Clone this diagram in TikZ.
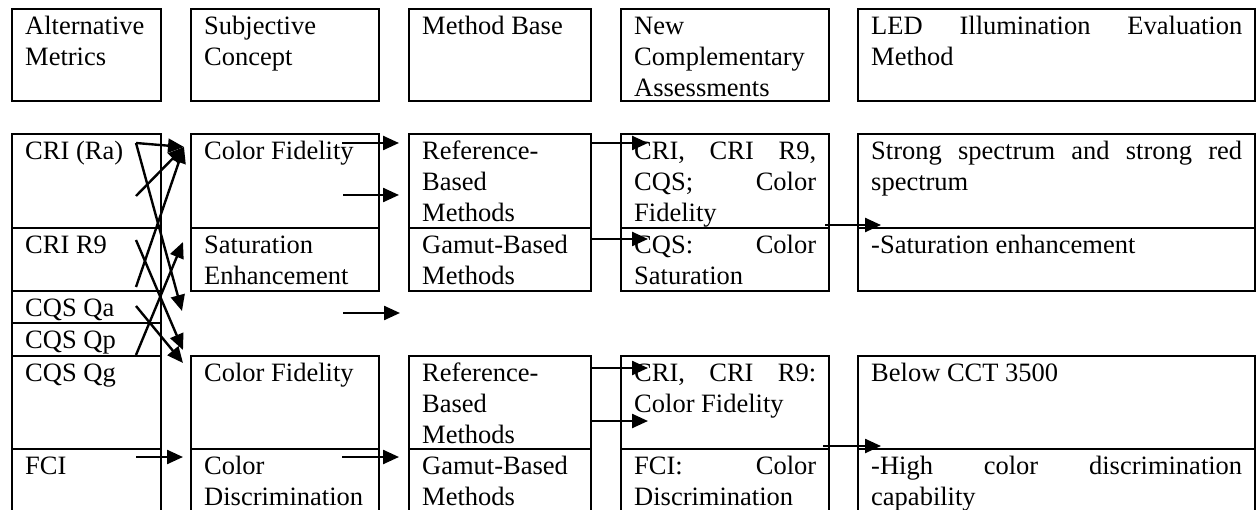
\documentclass[tikz,border=0pt]{standalone}
\usepackage{fontspec}
\setmainfont{Liberation Serif}
\usetikzlibrary{arrows.meta}

\tikzset{
  cell/.style={draw, line width=2.4pt, anchor=north west, inner xsep=13pt, inner ysep=0pt,
    font=\fontsize{26.5}{31}\selectfont},
  arr/.style={draw, line width=2.4pt, -{Triangle[length=16pt,width=14pt]}}
}
\newcommand{\celltxt}[3]{\parbox[t][#1pt][t]{#2pt}{\rule{0pt}{25pt}#3}}
\hbadness=10000 \hfuzz=20pt

\begin{document}
\begin{tikzpicture}[x=1pt,y=-1pt]
    \useasboundingbox (0,0) rectangle (1257,510);
    \clip (0,0) rectangle (1257,510);

    \node[cell] (metrics) at (11,8) {\celltxt{92}{123}{Alternative\\Metrics}};
    \node[cell] (concept) at (190,8) {\celltxt{92}{162}{Subjective\\Concept}};
    \node[cell] (base) at (408,8) {\celltxt{92}{156}{Method Base}};
    \node[cell] (assess) at (620,8) {\celltxt{92}{182}{New\\Complementary\\Assessments}};
    \node[cell] (led) at (857,8) {\celltxt{92}{371}{LED\hfill Illumination\hfill Evaluation\\Method}};

    \node[cell] (ra) at (11,133) {\celltxt{94}{123}{CRI (Ra)}};
    \node[cell] (r9) at (11,227) {\celltxt{63}{123}{CRI R9}};
    \node[cell] (qa) at (11,290) {\celltxt{32}{123}{CQS Qa}};
    \node[cell] (qp) at (11,322) {\celltxt{33}{123}{CQS Qp}};
    \node[cell] (qg) at (11,355) {\celltxt{93}{123}{CQS Qg}};
    \node[cell] (fci) at (11,448) {\celltxt{80}{123}{FCI}};

    \node[cell] (fid1) at (190,133) {\celltxt{94}{162}{Color Fidelity}};
    \node[cell] (sat) at (190,227) {\celltxt{63}{162}{Saturation\\Enhancement}};
    \node[cell] (fid2) at (190,355) {\celltxt{93}{162}{Color Fidelity}};
    \node[cell] (disc) at (190,448) {\celltxt{80}{162}{Color\\Discrimination}};

    \node[cell] (ref1) at (408,133) {\celltxt{94}{156}{Reference-\\Based\\Methods}};
    \node[cell] (gam1) at (408,227) {\celltxt{63}{156}{Gamut-Based\\Methods}};
    \node[cell] (ref2) at (408,355) {\celltxt{93}{156}{Reference-\\Based\\Methods}};
    \node[cell] (gam2) at (408,448) {\celltxt{80}{156}{Gamut-Based\\Methods}};

    \node[cell] (cri1) at (620,133) {\celltxt{94}{182}{CRI,\hfill CRI\hfill R9,\\CQS;\hfill Color\\Fidelity}};
    \node[cell] (cqs) at (620,227) {\celltxt{63}{182}{CQS:\hfill Color\\Saturation}};
    \node[cell] (cri2) at (620,355) {\celltxt{93}{182}{CRI,\hfill CRI\hfill R9:\\Color Fidelity}};
    \node[cell] (fcix) at (620,448) {\celltxt{80}{182}{FCI:\hfill Color\\Discrimination}};

    \node[cell] (strong) at (857,133) {\celltxt{94}{371}{Strong\hfill spectrum\hfill and\hfill strong\hfill red\\spectrum}};
    \node[cell] (satx) at (857,227) {\celltxt{63}{371}{-Saturation enhancement}};
    \node[cell] (below) at (857,355) {\celltxt{93}{371}{Below CCT 3500}};
    \node[cell] (high) at (857,448) {\celltxt{80}{371}{-High\hfill color\hfill discrimination\\capability}};

    \coordinate (ra-o) at (136,143);
    \coordinate (ra-o2) at (136,196);
    \coordinate (r9-o) at (136,240);
    \coordinate (r9-o2) at (136,287);
    \coordinate (qa-o) at (136,306);
    \coordinate (qp-o) at (136,355);
    \coordinate (fci-o) at (136,457);
    \coordinate (fid1-i) at (184,147);
    \coordinate (sat-i) at (183,242);
    \coordinate (gap-i) at (182,311);
    \coordinate (fid2-i) at (183,350);
    \coordinate (fid2-i2) at (183,363);
    \coordinate (disc-i) at (183,457);

    \coordinate (fid1-o) at (342,143);
    \coordinate (fid1-o2) at (343,195);
    \coordinate (gap-o) at (343,313);
    \coordinate (disc-o) at (342,457);
    \coordinate (ref1-i) at (399,143);
    \coordinate (ref1-i2) at (399,195);
    \coordinate (gap-i2) at (400,313);
    \coordinate (gam2-i) at (399,457);

    \coordinate (ref1-o) at (592,143);
    \coordinate (gam1-o) at (592,239);
    \coordinate (ref2-o) at (592,368);
    \coordinate (ref2-o2) at (592,421);
    \coordinate (cri1-i) at (648,143);
    \coordinate (cqs-i) at (648,239);
    \coordinate (cri2-i) at (648,368);
    \coordinate (cri2-i2) at (648,421);

    \coordinate (cri1-o) at (825,225);
    \coordinate (cri2-o) at (823,446);
    \coordinate (satx-i) at (881,225);
    \coordinate (high-i) at (881,446);

    \path[every edge/.style={arr}]
          (ra-o) edge (fid1-i)
          (ra-o) edge (gap-i)
          (ra-o2) edge (fid1-i)
          (r9-o2) edge (fid1-i)
          (r9-o) edge (fid2-i)
          (qa-o) edge (fid2-i2)
          (qp-o) edge (sat-i)
          (fci-o) edge (disc-i)
          (fid1-o) edge (ref1-i)
          (fid1-o2) edge (ref1-i2)
          (gap-o) edge (gap-i2)
          (disc-o) edge (gam2-i)
          (ref1-o) edge (cri1-i)
          (gam1-o) edge (cqs-i)
          (ref2-o) edge (cri2-i)
          (ref2-o2) edge (cri2-i2)
          (cri1-o) edge (satx-i)
          (cri2-o) edge (high-i);

  \end{tikzpicture}
\end{document}
